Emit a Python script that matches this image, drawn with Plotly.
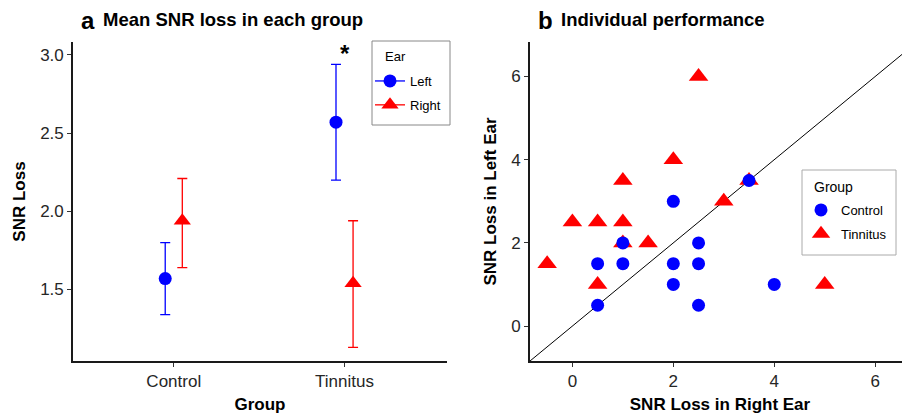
import plotly.graph_objects as go

# ---- Panel a data ----
groups = ["Control", "Tinnitus"]
left_mean = [1.57, 2.57]
left_lo = [1.34, 2.20]
left_hi = [1.80, 2.94]
right_mean = [1.94, 1.54]
right_lo = [1.64, 1.13]
right_hi = [2.21, 1.94]

# ---- Panel b data ----
ctrl_right = [0.5, 0.5, 1, 1, 2, 2, 2, 2.5, 2.5, 2.5, 3.5, 4]
ctrl_left = [0.5, 1.5, 1.5, 2, 3, 1.5, 1, 2, 1.5, 0.5, 3.5, 1]
tin_right = [-0.5, 0, 0.5, 0.5, 1, 1, 1, 1.5, 2, 2.5, 3, 3.5, 5]
tin_left = [1.5, 2.5, 2.5, 1, 2.5, 3.5, 2, 2, 4, 6, 3, 3.5, 1]

BLUE = "#0000FF"
RED = "#FF0000"
FONT = "Liberation Sans, Arial, sans-serif"
dodge = 0.05

W, H = 902, 411  # page body has an 8px margin


def px(x):
    return (x - 8) / W


def py(y):
    return 1 - (y - 8) / H


fig = go.Figure()

idx = list(range(len(groups)))


def with_gaps(vals):
    out = []
    for i, v in enumerate(vals):
        if i:
            out.append(None)
        out.append(v)
    return out


lx = [i - dodge for i in idx]
rx = [i + dodge for i in idx]

fig.add_trace(go.Scatter(
    x=with_gaps(lx), y=with_gaps(left_mean), mode="lines+markers", name="Left",
    marker=dict(symbol="circle", size=13, color=BLUE),
    line=dict(color=BLUE, width=1.3), connectgaps=False, legendgroup="L",
    error_y=dict(type="data", symmetric=False,
                 array=with_gaps([h - m for h, m in zip(left_hi, left_mean)]),
                 arrayminus=with_gaps([m - l for l, m in zip(left_lo, left_mean)]),
                 color=BLUE, thickness=1.3, width=5),
    xaxis="x", yaxis="y", legend="legend"))

fig.add_trace(go.Scatter(
    x=with_gaps(rx), y=with_gaps(right_mean), mode="lines+markers", name="Right",
    marker=dict(symbol="triangle-up", size=15, color=RED),
    line=dict(color=RED, width=1.3), connectgaps=False, legendgroup="R",
    error_y=dict(type="data", symmetric=False,
                 array=with_gaps([h - m for h, m in zip(right_hi, right_mean)]),
                 arrayminus=with_gaps([m - l for l, m in zip(right_lo, right_mean)]),
                 color=RED, thickness=1.3, width=5),
    xaxis="x", yaxis="y", legend="legend"))

# identity line panel b
diag = [-0.84, 6.69]
fig.add_trace(go.Scatter(x=diag, y=diag, mode="lines", line=dict(color="black", width=1),
                         showlegend=False, xaxis="x2", yaxis="y2", hoverinfo="skip"))

fig.add_trace(go.Scatter(
    x=tin_right, y=tin_left, mode="markers", name="Tinnitus",
    marker=dict(symbol="triangle-up", size=17, color=RED), legendgroup="T",
    xaxis="x2", yaxis="y2", legend="legend2", legendrank=2))
fig.add_trace(go.Scatter(
    x=ctrl_right, y=ctrl_left, mode="markers", name="Control",
    marker=dict(symbol="circle", size=13, color=BLUE), legendgroup="C",
    xaxis="x2", yaxis="y2", legend="legend2", legendrank=1))

axis_common = dict(showgrid=False, zeroline=False, showline=True, linecolor="#1a1a1a",
                   linewidth=1.6, ticks="outside", ticklen=4, tickwidth=1.2, tickcolor="#333",
                   tickfont=dict(family=FONT, size=17, color="#262626"))
title_font = dict(size=17, family=FONT, color="black")

fig.update_layout(
    width=W, height=H,
    margin=dict(l=0, r=0, t=0, b=0),
    paper_bgcolor="white", plot_bgcolor="white",
    font=dict(family=FONT, color="black"),
    xaxis=dict(domain=[px(73), px(447)], range=[-0.59, 1.6],
               tickvals=idx, ticktext=groups, **axis_common,
               title=dict(text="<b>Group</b>", font=title_font, standoff=8)),
    yaxis=dict(domain=[py(361), py(42)], range=[1.043, 3.083],
               tickvals=[1.5, 2.0, 2.5, 3.0], ticktext=["1.5", "2.0", "2.5", "3.0"], **axis_common,
               title=dict(text="<b>SNR Loss</b>", font=title_font, standoff=10)),
    xaxis2=dict(domain=[px(530), 1.0], range=[-0.84, 6.69], anchor="y2",
                tickvals=[0, 2, 4, 6], **axis_common,
                title=dict(text="<b>SNR Loss in Right Ear</b>", font=title_font, standoff=8)),
    yaxis2=dict(domain=[py(361), py(42)], range=[-0.84, 6.83], anchor="x2",
                tickvals=[0, 2, 4, 6], **axis_common,
                title=dict(text="<b>SNR Loss in Left Ear</b>", font=title_font, standoff=10)),
    legend=dict(x=px(370), y=py(66), xanchor="left", yanchor="top",
                borderwidth=0, bgcolor="rgba(0,0,0,0)",
                font=dict(size=13, family=FONT), itemwidth=30, tracegroupgap=4),
    legend2=dict(x=px(801), y=py(195), xanchor="left", yanchor="top",
                 borderwidth=0, bgcolor="rgba(0,0,0,0)",
                 font=dict(size=13, family=FONT), itemwidth=30, tracegroupgap=4),
    showlegend=True,
    shapes=[
        dict(type="rect", xref="paper", yref="paper", x0=px(372), x1=px(450), y0=py(125), y1=py(41),
             line=dict(color="#888", width=1), fillcolor="white", layer="below"),
        dict(type="rect", xref="paper", yref="paper", x0=px(802), x1=px(896), y0=py(255), y1=py(170),
             line=dict(color="#aaa", width=1), fillcolor="white", layer="below"),
    ],
)

# legend titles
fig.add_annotation(x=px(383), y=py(57), xref="paper", yref="paper", xanchor="left", yanchor="middle",
                   showarrow=False, text="Ear", font=dict(size=13, family=FONT, color="black"))
fig.add_annotation(x=px(812), y=py(187), xref="paper", yref="paper", xanchor="left", yanchor="middle",
                   showarrow=False, text="Group", font=dict(size=14, family=FONT, color="black"))

fig.add_annotation(x=1, y=3.04, xref="x", yref="y", text="<b>*</b>", showarrow=False,
                   font=dict(size=24, family=FONT, color="black"), yshift=-5)

# panel letters and titles
fig.add_annotation(x=px(79), y=py(21), xref="paper", yref="paper", xanchor="left",
                   yanchor="middle", showarrow=False, text="<b>a</b>",
                   font=dict(size=24, family=FONT, color="black"))
fig.add_annotation(x=px(101), y=py(20), xref="paper", yref="paper", xanchor="left",
                   yanchor="middle", showarrow=False, text="<b>Mean SNR loss in each group</b>",
                   font=dict(size=18.5, family=FONT, color="black"))
fig.add_annotation(x=px(536), y=py(21), xref="paper", yref="paper", xanchor="left",
                   yanchor="middle", showarrow=False, text="<b>b</b>",
                   font=dict(size=24, family=FONT, color="black"))
fig.add_annotation(x=px(559), y=py(20), xref="paper", yref="paper", xanchor="left",
                   yanchor="middle", showarrow=False, text="<b>Individual performance</b>",
                   font=dict(size=18.5, family=FONT, color="black"))

fig.write_html("out.html")
